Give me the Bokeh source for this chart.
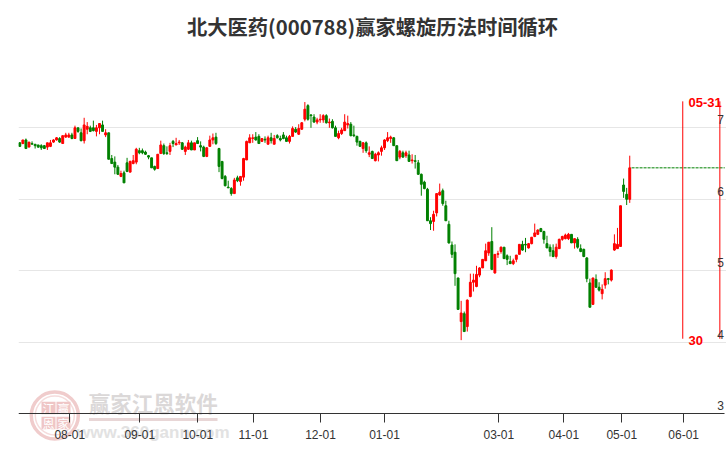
from bokeh.plotting import figure
from bokeh.models import LinearAxis, Grid, FixedTicker, Range1d, ColumnDataSource
from bokeh.core.properties import value
from bokeh.embed import file_html
from bokeh.resources import INLINE

title_text = "北大医药(000788)赢家螺旋历法时间循环"

open_ = [6.79,6.78,6.83,6.73,6.78,6.77,6.76,6.75,6.75,6.73,6.74,6.80,6.83,6.85,6.78,6.87,6.87,6.90,6.85,7.00,
6.93,6.82,6.98,7.00,7.00,6.95,7.00,7.04,6.90,6.93,6.57,6.52,6.45,6.32,6.37,6.51,6.38,6.50,6.52,6.68,
6.68,6.66,6.61,6.58,6.46,6.43,6.64,6.75,6.65,6.67,6.81,6.76,6.79,6.79,6.67,6.70,6.79,6.69,6.82,6.75,
6.73,6.60,6.74,6.83,6.87,6.71,6.53,6.32,6.17,6.15,6.08,6.30,6.25,6.31,6.55,6.79,6.85,6.87,6.88,6.81,
6.84,6.77,6.86,6.77,6.89,6.85,6.90,6.86,6.81,6.88,6.98,6.91,6.98,7.12,7.31,7.18,7.15,7.08,7.11,7.11,
7.17,7.07,7.09,7.00,6.86,6.92,6.96,7.04,7.05,6.90,6.88,6.81,6.71,6.79,6.63,6.67,6.54,6.62,6.67,6.72,
6.82,6.85,6.86,6.75,6.59,6.65,6.61,6.62,6.54,6.54,6.51,6.35,6.24,6.14,5.70,5.69,5.81,6.06,6.12,5.91,
5.65,5.36,5.26,4.90,4.29,4.40,4.22,4.64,4.84,4.78,4.94,5.04,5.14,5.25,5.41,4.97,5.23,5.27,5.33,5.21,
5.13,5.10,5.16,5.23,5.37,5.37,5.32,5.38,5.48,5.51,5.59,5.55,5.38,5.33,5.28,5.20,5.31,5.44,5.45,5.45,
5.51,5.39,5.44,5.31,5.30,5.18,4.83,4.53,4.88,4.77,4.68,4.80,4.89,4.87,5.29,5.31,5.34,6.20,6.07,6.00]
high = [6.80,6.83,6.85,6.80,6.81,6.77,6.76,6.77,6.76,6.79,6.83,6.84,6.87,6.87,6.89,6.93,6.93,6.93,7.03,7.00,
6.99,7.14,7.08,7.03,7.10,7.04,7.06,7.10,6.98,6.93,6.62,6.60,6.48,6.40,6.40,6.58,6.54,6.62,6.72,6.72,
6.71,6.68,6.62,6.58,6.47,6.63,6.82,6.78,6.74,6.79,6.83,6.86,6.83,6.80,6.75,6.83,6.82,6.79,6.87,6.81,
6.75,6.73,6.89,6.92,6.93,6.72,6.53,6.34,6.26,6.17,6.30,6.33,6.32,6.58,6.82,6.91,6.91,6.94,6.91,6.85,
6.88,6.89,6.93,6.90,6.91,6.89,6.94,6.89,6.90,7.02,7.01,7.05,7.08,7.36,7.33,7.19,7.19,7.14,7.19,7.19,
7.19,7.13,7.12,7.03,6.96,7.00,7.19,7.17,7.08,7.03,6.89,6.82,6.80,6.81,6.74,6.68,6.65,6.67,6.75,6.84,
6.94,6.89,6.87,6.75,6.69,6.68,6.68,6.68,6.63,6.62,6.55,6.36,6.26,6.16,5.75,5.84,6.08,6.22,6.15,5.98,
5.70,5.41,5.37,4.90,4.58,4.43,4.60,4.96,4.96,5.07,5.05,5.16,5.38,5.40,5.61,5.23,5.28,5.34,5.33,5.23,
5.21,5.17,5.22,5.37,5.42,5.46,5.39,5.47,5.66,5.58,5.60,5.56,5.49,5.37,5.37,5.38,5.45,5.49,5.52,5.53,
5.51,5.45,5.47,5.37,5.31,5.19,4.89,4.90,4.95,4.84,4.81,4.98,4.90,5.02,5.51,5.60,5.91,6.29,6.16,6.61]
low = [6.74,6.77,6.71,6.73,6.77,6.71,6.72,6.69,6.71,6.69,6.73,6.79,6.82,6.79,6.78,6.86,6.86,6.84,6.85,6.93,
6.81,6.78,6.91,6.94,6.95,6.88,6.91,6.95,6.87,6.56,6.50,6.35,6.34,6.31,6.23,6.38,6.38,6.49,6.49,6.63,
6.63,6.62,6.56,6.44,6.40,6.43,6.64,6.62,6.62,6.62,6.73,6.76,6.76,6.69,6.62,6.69,6.69,6.69,6.78,6.67,
6.59,6.59,6.74,6.77,6.76,6.38,6.28,6.18,6.16,6.05,6.08,6.24,6.19,6.26,6.55,6.79,6.79,6.82,6.78,6.81,
6.79,6.77,6.78,6.77,6.85,6.81,6.84,6.81,6.78,6.88,6.93,6.90,6.97,7.09,7.10,7.00,7.07,7.05,7.07,7.07,
7.06,7.00,6.99,6.88,6.84,6.90,6.96,6.99,6.88,6.87,6.75,6.74,6.65,6.65,6.59,6.57,6.53,6.53,6.61,6.69,
6.80,6.79,6.75,6.54,6.56,6.58,6.58,6.53,6.50,6.43,6.34,6.05,6.14,5.70,5.57,5.56,5.76,6.05,5.91,5.70,
5.38,5.18,4.79,4.46,4.03,4.15,4.15,4.63,4.71,4.77,4.91,5.04,5.14,5.21,5.01,4.96,5.18,5.24,5.17,5.08,
5.10,5.08,5.12,5.23,5.28,5.26,5.31,5.37,5.47,5.50,5.54,5.38,5.32,5.20,5.19,5.17,5.31,5.42,5.44,5.43,
5.39,5.31,5.31,5.26,5.19,4.84,4.49,4.53,4.76,4.71,4.60,4.75,4.81,4.85,5.28,5.31,5.34,6.02,5.92,5.95]
close = [6.74,6.83,6.71,6.80,6.77,6.75,6.73,6.72,6.71,6.79,6.79,6.83,6.86,6.80,6.89,6.90,6.90,6.85,7.00,6.95,
6.82,7.04,7.02,6.95,6.96,7.00,7.06,6.95,6.93,6.56,6.50,6.45,6.35,6.36,6.23,6.39,6.53,6.54,6.70,6.65,
6.65,6.63,6.59,6.44,6.42,6.63,6.76,6.64,6.64,6.75,6.78,6.78,6.80,6.70,6.73,6.79,6.69,6.79,6.78,6.73,
6.60,6.72,6.83,6.86,6.78,6.46,6.29,6.19,6.16,6.08,6.27,6.26,6.32,6.57,6.81,6.86,6.86,6.83,6.78,6.85,
6.83,6.86,6.82,6.85,6.86,6.83,6.85,6.81,6.88,6.99,6.94,6.99,7.07,7.26,7.12,7.17,7.08,7.11,7.12,7.17,
7.07,7.08,7.00,6.88,6.92,6.97,7.08,7.06,6.89,6.89,6.80,6.74,6.79,6.68,6.65,6.57,6.63,6.65,6.72,6.83,
6.86,6.87,6.75,6.54,6.67,6.59,6.65,6.53,6.55,6.53,6.35,6.21,6.15,5.70,5.66,5.79,6.08,6.10,5.94,5.70,
5.39,5.23,4.96,4.46,4.41,4.15,4.59,4.84,4.87,4.95,5.04,5.16,5.28,5.40,5.02,5.23,5.24,5.33,5.17,5.16,
5.10,5.14,5.22,5.37,5.29,5.36,5.38,5.47,5.53,5.57,5.55,5.44,5.32,5.27,5.20,5.33,5.44,5.48,5.50,5.51,
5.39,5.45,5.33,5.27,5.20,4.89,4.49,4.90,4.77,4.73,4.74,4.89,4.88,5.01,5.38,5.37,5.91,6.11,6.00,6.44]

tick_index = [16.31, 39.15, 58.07, 76.25, 98.1, 119.0, 156.3, 177.5, 196.4, 216.6]
tick_labels = ["08-01", "09-01", "10-01", "11-01", "12-01", "01-01", "03-01", "04-01", "05-01", "06-01"]
price_ticks = [7, 6, 5, 4, 3]
price_labels = ["7", "6", "5", "4", "3"]
cycle_index = [216.3, 228.4]
cycle_top = 7.37
cycle_bottom = 4.05
level_end = 230.0

RED = "#ff0000"
GREEN = "#008000"

# page pixel -> data helpers, used for the decoration only
SX = 3.065
SY = 71.5
def X(px): return (px - 19.3) / SX
def Y(py): return 7 - (py - 127.3) / SY

TOP = 48  # figure px above the frame
p = figure(width=726, height=450, output_backend="svg", toolbar_location=None,
           x_axis_type=None, y_axis_type=None,
           x_range=Range1d(X(18), X(726)), y_range=Range1d(Y(450), Y(TOP)),
           min_border_left=18, min_border_right=0, min_border_bottom=0, min_border_top=TOP,
           outline_line_color=None, background_fill_color="white", border_fill_color="white")
p.grid.visible = False

p.title.text = title_text
p.title.align = "center"
p.title.text_font = "Noto Sans CJK SC"
p.title.text_font_size = "20.3px"
p.title.text_font_style = "bold"
p.title.text_color = "#333333"
p.title.standoff = 16

grid = Grid(dimension=1, ticker=FixedTicker(ticks=price_ticks[:-1]),
            grid_line_color="#e6e6e6", grid_line_width=1)
p.add_layout(grid)

# watermark
WM = "#f0cccc"
p.scatter([X(54.3)], [Y(415)], marker="circle", size=47, fill_color=None, line_color=WM, line_width=3.5, level="underlay")
p.scatter([X(54.3)], [Y(415)], marker="circle", size=39, fill_color=None, line_color="#f5dcdc", line_width=1.5, level="underlay")
bx = [X(48), X(63), X(48), X(63)]
by = [Y(407.5), Y(407.5), Y(422.5), Y(422.5)]
p.rect(bx, by, width=14 / SX, height=12.5 / SY, fill_color="#efc6c6", line_color=None, level="underlay")
p.text(bx, by, text=["江", "赢", "恩", "家"], text_align="center", text_baseline="middle",
       text_color="white", text_font=value("Noto Sans CJK SC"), text_font_size="12px", level="underlay")
p.text([X(152.8)], [Y(402)], text=["赢家江恩软件"], text_align="center", text_baseline="middle",
       text_color="#dbd8d8", text_font=value("Noto Sans CJK SC"), text_font_size="21.5px",
       text_font_style="bold", level="underlay")
p.segment([X(88.5)], [Y(419)], [X(217)], [Y(419)], line_color="#e8d6d6", line_width=3, level="underlay")
p.text([X(152.8)], [Y(431.5)], text=["www.360gann.com"], text_align="center", text_baseline="middle",
       text_color="#e2e2e2", text_font=value("Liberation Sans"), text_font_size="17px",
       text_font_style="bold", level="underlay")

# candles
idx = list(range(len(close)))
colors = [RED if c >= o else GREEN for o, c in zip(open_, close)]
src = ColumnDataSource(dict(x=idx, open=open_, high=high, low=low, close=close, color=colors,
                            top=[max(o, c) for o, c in zip(open_, close)],
                            bottom=[min(o, c) for o, c in zip(open_, close)]))
p.segment("x", "high", "x", "low", source=src, line_color="color", line_width=1)
p.vbar("x", width=0.62, top="top", bottom="bottom", source=src,
       fill_color="color", line_color="color", line_width=1)

# latest-close level
p.segment([idx[-1] + 0.6], [close[-1]], [level_end], [close[-1]], line_color=GREEN, line_width=1, line_dash="3 1")

# cycle lines
p.segment(cycle_index, [cycle_top] * 2, cycle_index, [cycle_bottom] * 2, line_color=RED, line_width=1)
p.text([X(688)], [Y(102)], text=["05-31"], text_color=RED, text_align="left", text_baseline="middle",
       text_font=value("Liberation Sans"), text_font_size="13px", text_font_style="bold")
p.text([X(688)], [Y(340)], text=["30"], text_color=RED, text_align="left", text_baseline="middle",
       text_font=value("Liberation Sans"), text_font_size="13px", text_font_style="bold")

# price labels sit just above their gridlines
p.text([X(723.5)] * len(price_ticks), price_ticks, text=price_labels, text_align="right", text_baseline="bottom",
       y_offset=-3.5, text_color="#333333", text_font=value("Liberation Sans"), text_font_size="12px")

xaxis = LinearAxis(fixed_location=3, ticker=FixedTicker(ticks=tick_index),
                   major_label_overrides=dict(zip(tick_index, tick_labels)),
                   major_tick_out=9, major_tick_in=0, minor_tick_line_color=None,
                   axis_line_color="#333333", major_tick_line_color="#333333",
                   major_label_text_color="#333333", major_label_text_font="Liberation Sans",
                   major_label_text_font_size="12px", major_label_standoff=7,
                   bounds=(X(18), X(724)))
p.add_layout(xaxis, "below")

open("out.html", "w").write(file_html(p, INLINE))
